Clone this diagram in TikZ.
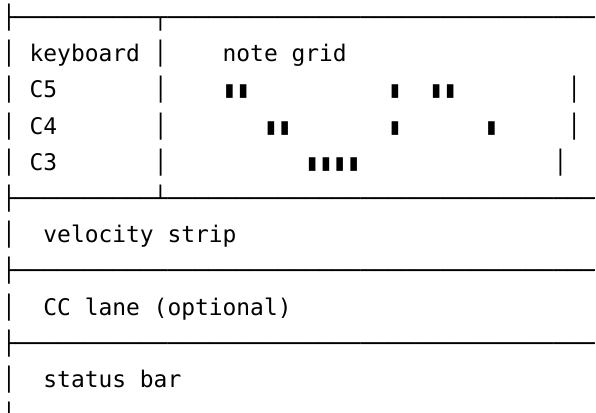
\documentclass[tikz,border=0pt]{standalone}
\usepackage{fontspec}
\setmonofont{DejaVu Sans Mono}
\begin{document}
\begin{tikzpicture}[x=1pt,y=1pt,
  ascii/.style={anchor=base west, inner sep=0pt, outer sep=0pt,
    font=\ttfamily\fontsize{22.9pt}{36.2pt}\selectfont}]
\useasboundingbox (0,0) rectangle (596,-412);
% character grid: one unit = one column / one text line
\begin{scope}[shift={(2.1,-25.5)}, x=13.79pt, y=-36.2pt]
  \node[ascii] (rule0) at (0,0)  {├──────────┬───────────────────────────────};
  \node[ascii] (head)  at (0,1)  {│~keyboard~│~~~~note~grid};
  \node[ascii] (c5)    at (0,2)  {│~C5~~~~~~~│~~~~▮▮~~~~~~~~~~▮~~▮▮~~~~~~~~│};
  \node[ascii] (c4)    at (0,3)  {│~C4~~~~~~~│~~~~~~~▮▮~~~~~~~▮~~~~~~▮~~~~~│};
  \node[ascii] (c3)    at (0,4)  {│~C3~~~~~~~│~~~~~~~~~~▮▮▮▮~~~~~~~~~~~~~~│};
  \node[ascii] (rule1) at (0,5)  {├──────────┴───────────────────────────────};
  \node[ascii] (vel)   at (0,6)  {│~~velocity~strip};
  \node[ascii] (rule2) at (0,7)  {├──────────────────────────────────────────};
  \node[ascii] (cc)    at (0,8)  {│~~CC~lane~(optional)};
  \node[ascii] (rule3) at (0,9)  {├──────────────────────────────────────────};
  \node[ascii] (stat)  at (0,10) {│~~status~bar};
  \node[ascii] (tail)  at (0,11) {│};
\end{scope}
\end{tikzpicture}
\end{document}
